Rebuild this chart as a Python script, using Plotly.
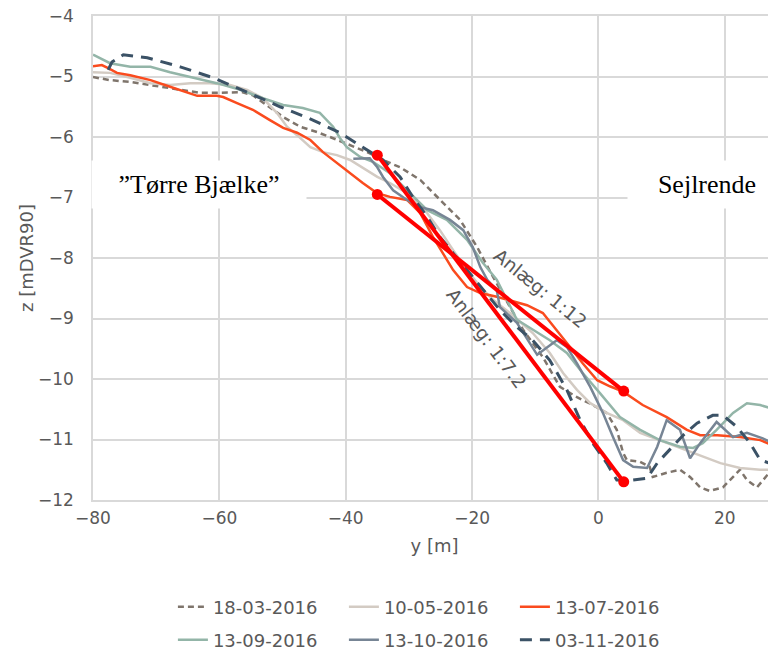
import plotly.graph_objects as go

# ---------------- data ----------------
y_1803 = [-80, -77.3, -74.1, -70.9, -67.8, -65.7, -63.1, -60.4, -58.3, -56.3, -54.7, -52.5, -49.9, -47.2,
          -44.5, -42.0, -39.3, -36.6, -34.1, -31.4, -28.2, -25.1, -21.9, -19.2, -16.7, -14.0, -11.9, -8.8,
          -6.1, -3.4, -0.9, 1.3, 2.9, 3.9, 4.5, 6.6, 8.1, 8.6, 10.8, 12.9, 14.5, 16.1, 17.6, 19.7, 21.3,
          22.4, 23.5, 25.1, 26.7, 28.1]
z_1803 = [-5.01, -5.06, -5.09, -5.14, -5.19, -5.22, -5.27, -5.27, -5.27, -5.26, -5.31, -5.47, -5.67, -5.83,
          -5.92, -6.02, -6.13, -6.25, -6.38, -6.50, -6.71, -7.04, -7.37, -7.82, -8.31, -8.81, -9.19, -9.64,
          -10.13, -10.30, -10.43, -10.56, -10.84, -11.22, -11.34, -11.37, -11.45, -11.62, -11.55, -11.50,
          -11.62, -11.79, -11.85, -11.79, -11.62, -11.50, -11.67, -11.79, -11.59, -11.34]

y_1005 = [-80, -77.3, -74.1, -70.9, -67.8, -64.6, -61.5, -58.3, -55.6, -53.1, -50.9, -49.3, -47.7, -45.6,
          -43.6, -41.4, -39.3, -37.3, -35.0, -33.0, -30.3, -27.1, -25.1, -23.0, -20.8, -18.7, -16.7, -14.0,
          -10.4, -7.7, -5.6, -3.4, -1.3, 1.3, 3.9, 6.6, 10.8, 15.0, 19.3, 22.4, 25.6, 28.1]
z_1005 = [-4.93, -4.94, -5.02, -5.11, -5.14, -5.11, -5.11, -5.14, -5.22, -5.36, -5.60, -5.83, -5.97, -6.17,
          -6.25, -6.30, -6.38, -6.51, -6.66, -6.76, -6.93, -7.26, -7.54, -7.87, -8.20, -8.48, -8.69, -8.91,
          -9.24, -9.57, -9.90, -10.18, -10.40, -10.56, -10.68, -10.89, -11.06, -11.22, -11.39, -11.47,
          -11.50, -11.50]

y_1307 = [-80, -78.6, -77.6, -76.2, -74.1, -70.9, -67.8, -65.1, -63.5, -60.4, -59.4, -57.2, -54.7, -52.0,
          -49.9, -47.7, -45.6, -43.6, -41.4, -39.3, -37.3, -35.0, -33.0, -30.3, -28.2, -26.2, -24.6, -23.0,
          -20.8, -18.7, -16.1, -11.3, -8.8, -6.6, -4.5, -2.5, -0.2, 1.8, 3.9, 7.0, 10.8, 14.0, 16.1, 18.8,
          22.4, 25.6, 28.1]
z_1307 = [-4.83, -4.81, -4.86, -4.94, -4.98, -5.06, -5.17, -5.27, -5.32, -5.32, -5.34, -5.44, -5.55, -5.72,
          -5.85, -5.93, -6.05, -6.25, -6.43, -6.60, -6.76, -6.93, -6.99, -7.04, -7.26, -7.65, -7.92, -8.20,
          -8.48, -8.58, -8.64, -8.78, -8.91, -9.19, -9.47, -9.74, -10.02, -10.12, -10.21, -10.43, -10.63,
          -10.84, -10.93, -10.93, -10.96, -11.01, -11.12]

y_1309 = [-80, -77.3, -74.1, -70.9, -67.8, -64.6, -60.4, -56.7, -53.1, -49.9, -46.8, -44.1, -42.0, -40.9,
          -39.8, -37.7, -35.7, -33.0, -29.8, -27.1, -24.0, -20.8, -18.3, -16.1, -12.9, -7.7, -5.0, -2.5,
          0.2, 3.4, 6.6, 9.7, 12.9, 15.0, 16.5, 18.7, 21.3, 23.5, 25.6, 28.1]
z_1309 = [-4.64, -4.78, -4.84, -4.84, -4.93, -5.01, -5.11, -5.22, -5.36, -5.47, -5.52, -5.60, -5.83, -6.02,
          -6.17, -6.33, -6.41, -6.60, -6.93, -7.21, -7.37, -7.70, -8.08, -8.36, -9.02, -9.36, -9.57, -9.90,
          -10.23, -10.63, -10.84, -11.01, -11.12, -11.14, -11.06, -10.84, -10.56, -10.40, -10.43, -10.51]

y_1310 = [-38.8, -36.2, -35.0, -34.1, -32.5, -30.3, -28.2, -26.2, -23.5, -21.4, -19.9, -18.7, -17.6, -16.1,
          -15.6, -12.9, -9.7, -8.1, -6.6, -5.0, -3.4, -1.3, 0.7, 2.3, 3.9, 5.5, 7.7, 9.3, 10.8, 12.9, 14.5,
          16.1, 18.7, 21.3, 23.5, 26.0, 28.1]
z_1310 = [-6.36, -6.35, -6.50, -6.66, -6.88, -7.04, -7.16, -7.21, -7.37, -7.54, -7.82, -8.15, -8.36, -8.53,
          -8.81, -9.07, -9.60, -9.47, -9.36, -9.47, -9.74, -10.13, -10.56, -10.96, -11.34, -11.45, -11.47,
          -11.12, -10.68, -10.84, -11.31, -11.06, -10.71, -10.96, -10.89, -10.98, -11.09]

y_0311 = [-77.6, -77.0, -75.2, -71.4, -66.2, -61.0, -55.6, -50.4, -45.2, -40.9, -37.3, -34.1, -31.4, -29.4,
          -27.1, -25.1, -23.0, -20.8, -18.3, -15.6, -12.9, -10.4, -7.7, -5.0, -2.9, -0.9, 1.3, 2.9, 5.5,
          7.7, 9.3, 11.3, 13.4, 15.6, 18.1, 19.7, 21.9, 24.0, 25.6, 27.1, 28.1]
z_0311 = [-4.89, -4.76, -4.64, -4.69, -4.84, -5.02, -5.26, -5.50, -5.72, -5.93, -6.17, -6.38, -6.66, -6.99,
          -7.32, -7.65, -7.92, -8.20, -8.53, -8.86, -9.14, -9.36, -9.69, -10.18, -10.68, -11.06, -11.39,
          -11.67, -11.67, -11.64, -11.39, -11.17, -10.93, -10.73, -10.60, -10.60, -10.79, -11.06, -11.34,
          -11.39, -11.29]

slope_12_y = [-35, 4]
slope_12_z = [-6.95, -10.2]
slope_72_y = [-35, 4]
slope_72_z = [-6.3, -11.7]

x_ticks = [-80, -60, -40, -20, 0, 20]
z_ticks = [-4, -5, -6, -7, -8, -9, -10, -11, -12]

# ---------------- figure ----------------
FONT = "DejaVu Sans"
SERIF = "Liberation Serif"
GRAY = "#595959"

fig = go.Figure()

series = [
    ("18-03-2016", y_1803, z_1803, "#7F756C", "6px,4px", 2.5, "legend"),
    ("10-05-2016", y_1005, z_1005, "#D3CBC3", "solid", 2.5, "legend"),
    ("13-07-2016", y_1307, z_1307, "#FA4B1E", "solid", 2.5, "legend"),
    ("13-09-2016", y_1309, z_1309, "#93B5A8", "solid", 2.5, "legend2"),
    ("13-10-2016", y_1310, z_1310, "#778595", "solid", 2.5, "legend2"),
    ("03-11-2016", y_0311, z_0311, "#3B5266", "12px,8px", 3, "legend2"),
]
for name, xs, zs, col, dash, w, lg in series:
    fig.add_trace(go.Scatter(x=xs, y=zs, name=name, mode="lines",
                             line=dict(color=col, width=w, dash=dash),
                             legend=lg))

for xs, zs in [(slope_12_y, slope_12_z), (slope_72_y, slope_72_z)]:
    fig.add_trace(go.Scatter(x=xs, y=zs, mode="lines+markers", showlegend=False,
                             line=dict(color="#FF0000", width=4),
                             marker=dict(color="#FF0000", size=11)))

fig.add_annotation(x=-63.2, y=-6.79, text="”Tørre Bjælke”", showarrow=False,
                   font=dict(family=SERIF, size=26, color="#000000"),
                   bgcolor="white", width=196, borderpad=9)
fig.add_annotation(x=17.1, y=-6.79, text="Sejlrende", showarrow=False,
                   font=dict(family=SERIF, size=26, color="#000000"),
                   bgcolor="white", width=140, borderpad=9)
fig.add_annotation(x=-9.2, y=-8.5, text="Anlæg: 1:12", showarrow=False, textangle=39,
                   font=dict(family=FONT, size=18.5, color=GRAY))
fig.add_annotation(x=-17.7, y=-9.33, text="Anlæg: 1:7.2", showarrow=False, textangle=53,
                   font=dict(family=FONT, size=18.5, color=GRAY))

axis_common = dict(showgrid=True, gridcolor="#D9D9D9", gridwidth=1.5, zeroline=False,
                   showline=True, linecolor="#D9D9D9", linewidth=1.5, automargin=False,
                   ticklabeloverflow="allow",
                   tickfont=dict(family=FONT, size=17, color=GRAY))

# the page body adds an 8px offset, so the margins are shifted accordingly
fig.update_layout(
    width=776, height=665,
    margin=dict(l=85, r=8, t=8, b=173),
    paper_bgcolor="white", plot_bgcolor="white",
    xaxis=dict(range=[-80, 28.1], tickvals=x_ticks, mirror=True,
               ticklabelstandoff=2,
               title=dict(text="y [m]", font=dict(family=FONT, size=18, color=GRAY), standoff=12),
               **axis_common),
    yaxis=dict(range=[-12, -4], tickvals=z_ticks,
               ticklabelstandoff=14,
               title=dict(text="z [mDVR90]", font=dict(family=FONT, size=18, color=GRAY), standoff=0),
               **axis_common),
    legend=dict(orientation="h", x=0.117, xanchor="left", y=-0.2211, yanchor="middle",
                entrywidth=126, entrywidthmode="pixels",
                font=dict(family=FONT, size=18, color=GRAY), bgcolor="rgba(0,0,0,0)"),
    legend2=dict(orientation="h", x=0.117, xanchor="left", y=-0.2893, yanchor="middle",
                 entrywidth=126, entrywidthmode="pixels",
                 font=dict(family=FONT, size=18, color=GRAY), bgcolor="rgba(0,0,0,0)"),
)

fig.write_html("out.html")
